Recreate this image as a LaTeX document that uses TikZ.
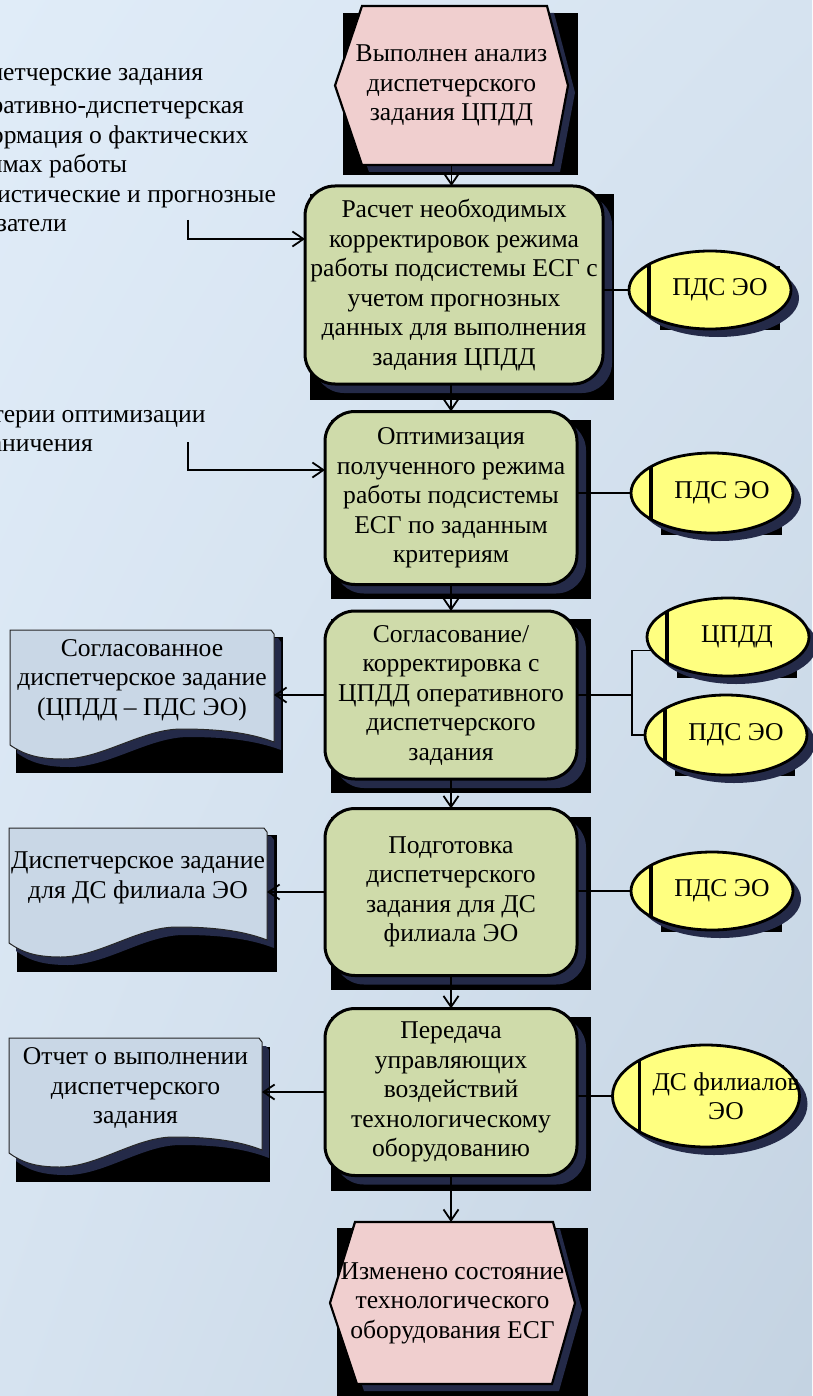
\documentclass[tikz,border=0pt]{standalone}
\usepackage{fontspec}
\setmainfont{Liberation Serif}
\usetikzlibrary{arrows.meta,calc,shapes.geometric,shadings}

\definecolor{bgA}{RGB}{224,236,248}
\definecolor{bgB}{RGB}{214,227,240}
\definecolor{bgC}{RGB}{196,211,226}
\definecolor{funcfill}{RGB}{207,219,170}
\definecolor{eventfill}{RGB}{240,207,207}
\definecolor{unitfill}{RGB}{255,255,128}
\definecolor{docfill}{RGB}{201,215,230}
\definecolor{rimcol}{RGB}{36,42,72}

\pgfdeclarelayer{back}
\pgfdeclarelayer{shadow}
\pgfdeclarelayer{shapes}
\pgfsetlayers{back,shadow,shapes,main}

\tikzset{
  base/.style={font=\fontsize{25.6}{29.5}\selectfont, align=center, inner sep=0pt, outer sep=0pt},
  func/.style={base, rectangle, rounded corners=30pt, draw=black, line width=3pt,
    fill=funcfill, minimum width=252pt, minimum height=168pt},
  plain/.style={base, rectangle, draw=none},
  intext/.style={base, align=left},
  orgunit/.style={base, ellipse, draw=black, line width=2.8pt, fill=unitfill,
    minimum width=162pt, minimum height=78pt,
    path picture={\draw[line width=3.4pt] ([xshift=#1]path picture bounding box.west) ++(0,-70) -- ++(0,140);}},
  unitlabel/.style={base},
  flow/.style={line width=1.8pt, -{Straight Barb[length=11pt,width=15pt,line width=1.8pt]}},
  link/.style={line width=1.8pt},
  eventshape/.style={fill=eventfill, draw=black, line width=2.2pt, line join=miter},
  docshape/.style={fill=docfill, draw=black!85, line width=1pt},
  rim/.style={fill=rimcol, draw=none, transform canvas={shift={(#1)}}},
}

% black box behind a shape: node, nw dx, nw dy, se dx, se dy
\newcommand\castshadow[5]{%
  \fill[black] ($(#1.north west)+(#2,#3)$) rectangle ($(#1.south east)+(#4,#5)$);}

% dithered rim of a function box and of an organisational unit
\newcommand\funcrim[1]{%
  \fill[rim={9,9}, rounded corners=30pt] (#1.north west) rectangle (#1.south east);}
\newcommand\unitrim[3]{%
  \fill[rim={8,8}] (#1.center) ellipse [x radius=#2, y radius=#3];}

% hexagonal event outline around a text node: style, node, top-left, top-right, bottom-right, bottom-left insets
\newcommand\eventoutline[6][eventshape]{%
  \filldraw[#1] (#2.west) -- ($(#2.north west)+(#3,0)$) -- ($(#2.north east)+(-#4,0)$)
    -- (#2.east) -- ($(#2.south east)+(-#5,0)$) -- ($(#2.south west)+(#6,0)$) -- cycle;}

% document outline with a wavy lower edge: style, node, width
\newcommand\docoutline[3][docshape]{%
  \begin{scope}[shift={(#2.north west)}]
    \filldraw[#1] (0,0) -- (#3-3,0) -- (#3,4) -- (#3,112)
      .. controls (0.9*#3,102) and (0.78*#3,99) .. (0.65*#3,99)
      .. controls (0.5*#3,99) and (0.35*#3,129) .. (0.2*#3,129)
      .. controls (0.1*#3,129) and (0.05*#3,124) .. (0,115) -- cycle;
  \end{scope}}

\begin{document}
\begin{tikzpicture}[x=1pt,y=-1pt]
\useasboundingbox (0,0) rectangle (812,1396);

\begin{pgfonlayer}{back}
  \shade[upper left=bgA, upper right=bgB, lower left=bgB, lower right=bgC] (0,0) rectangle (812,1396);
\end{pgfonlayer}

% inputs on the left
\node[intext, anchor=west] (src1) at (-53,148) {Диспетчерские задания\\[3.5pt]Оперативно-диспетчерская\\информация о фактических\\режимах работы\\Статистические и прогнозные\\показатели};
\node[intext, anchor=west] (src2) at (-51,431.5) {Критерии оптимизации\\Ограничения};

% events
\node[plain, minimum width=233pt, minimum height=159pt] (e1) at (451.5,85.5) {Выполнен анализ\\диспетчерского\\задания ЦПДД};
\node[plain, minimum width=245pt, minimum height=162pt] (e2) at (452.5,1303) {Изменено состояние\\технологического\\оборудования ЕСГ};

% functions
\node[func, minimum width=298pt, minimum height=198pt] (f1) at (454,285) {Расчет необходимых\\корректировок режима\\работы подсистемы ЕСГ с\\учетом прогнозных\\данных для выполнения\\задания ЦПДД};
\node[func, minimum height=173pt] (f2) at (451,498) {Оптимизация\\полученного режима\\работы подсистемы\\ЕСГ по заданным\\критериям};
\node[func] (f3) at (451,695) {Согласование/\\корректировка с\\ЦПДД оперативного\\диспетчерского\\задания};
\node[func, minimum height=167pt] (f4) at (451,892) {Подготовка\\диспетчерского\\задания для ДС\\филиала ЭО};
\node[func, minimum height=167pt] (f5) at (451,1092) {Передача\\управляющих\\воздействий\\технологическому\\оборудованию};

% documents
\node[plain, anchor=north west, minimum width=264pt, minimum height=100pt] (d1) at (10,630) {Согласованное\\диспетчерское задание\\(ЦПДД – ПДС ЭО)};
\node[plain, anchor=north west, minimum width=258pt, minimum height=100pt] (d2) at (9,828) {Диспетчерское задание\\для ДС филиала ЭО};
\node[plain, anchor=north west, minimum width=253pt, minimum height=100pt] (d3) at (9,1038) {Отчет о выполнении\\диспетчерского\\задания};

% organisational units
\node[orgunit=20pt, label={[unitlabel,xshift=10pt]center:ПДС ЭО}] (u1) at (710,290) {};
\node[orgunit=20pt, minimum height=80pt, label={[unitlabel,xshift=10pt]center:ПДС ЭО}] (u2) at (712,493) {};
\node[orgunit=20pt, label={[unitlabel,xshift=9pt]center:ЦПДД}] (u3a) at (728,637) {};
\node[orgunit=20pt, minimum height=80pt, label={[unitlabel,xshift=10pt]center:ПДС ЭО}] (u3b) at (726,735) {};
\node[orgunit=20pt, label={[unitlabel,xshift=10pt]center:ПДС ЭО}] (u4) at (712,891) {};
\node[orgunit=27pt, minimum width=187pt, minimum height=102pt, label={[unitlabel,xshift=20pt]center:{ДС филиалов\\ЭО}}] (u5) at (706,1096) {};

\begin{pgfonlayer}{shadow}
  \castshadow{e1}{8}{7}{10}{10}
  \castshadow{e2}{7}{6}{13}{14}
  \castshadow{f1}{5}{8}{11}{16}
  \castshadow{f2}{6}{8}{14}{14}
  \castshadow{f3}{6}{8}{14}{14}
  \castshadow{f4}{6}{8}{14}{14}
  \castshadow{f5}{6}{8}{14}{15}
  \castshadow{d1}{6}{7}{9}{43}
  \castshadow{d2}{8}{7}{10}{44}
  \castshadow{d3}{7}{9}{8}{44}
  \castshadow{u1}{7}{4}{13}{12}
  \castshadow{u2}{6}{8}{13}{14}
  \castshadow{u3a}{6}{7}{12}{13}
  \castshadow{u3b}{6}{5}{12}{13}
  \castshadow{u4}{6}{7}{13}{13}
  \castshadow{u5}{9}{5}{12}{6}
  \funcrim{f1}
  \funcrim{f2}
  \funcrim{f3}
  \funcrim{f4}
  \funcrim{f5}
  \unitrim{u1}{81}{39}
  \unitrim{u2}{81}{40}
  \unitrim{u3a}{81}{39}
  \unitrim{u3b}{81}{40}
  \unitrim{u4}{81}{39}
  \unitrim{u5}{93.5}{51}
  \eventoutline[rim={7,7}]{e1}{27}{21}{15}{27}
  \eventoutline[rim={7,7}]{e2}{25}{22}{23}{27}
  \docoutline[rim={7,8}]{d1}{264}
  \docoutline[rim={7,8}]{d2}{258}
  \docoutline[rim={7,8}]{d3}{253}
\end{pgfonlayer}

\begin{pgfonlayer}{shapes}
  \eventoutline{e1}{27}{21}{15}{27}
  \eventoutline{e2}{25}{22}{23}{27}
  \docoutline{d1}{264}
  \docoutline{d2}{258}
  \docoutline{d3}{253}
\end{pgfonlayer}

% input arrows
\coordinate (in1) at (188,220);
\coordinate (in1k) at (188,239);
\draw[flow] (in1) -- (in1k) -- (in1k -| f1.west);
\coordinate (in2) at (188,442);
\coordinate (in2k) at (188,470);
\draw[flow] (in2) -- (in2k) -- (in2k -| f2.west);

% main flow
\draw[flow] (e1.south) -- (e1.south |- f1.north);
\draw[flow] (f2.north |- f1.south) -- (f2.north);
\draw[flow] (f2.south) -- (f3.north);
\draw[flow] (f3.south) -- (f4.north);
\draw[flow] (f4.south) -- (f5.north);
\draw[flow] (f5.south) -- (f5.south |- e2.north);

% responsible units
\draw[link] (f1.east |- u1.west) -- (u1.west);
\draw[link] (f2.east |- u2.west) -- (u2.west);
\coordinate (j3) at (632,695);
\draw[link] (f3.east) -- (j3);
\draw[link] (u3a.190) -| (j3) |- (u3b.west);
\draw[link] (f4.east |- u4.west) -- (u4.west);
\draw[link] (f5.east |- u5.west) -- (u5.west);

% outputs
\draw[flow] (f3.west) -- (f3.west -| d1.east);
\draw[flow] (f4.west) -- (f4.west -| d2.east);
\draw[flow] (f5.west) -- (f5.west -| d3.east);
\end{tikzpicture}
\end{document}
